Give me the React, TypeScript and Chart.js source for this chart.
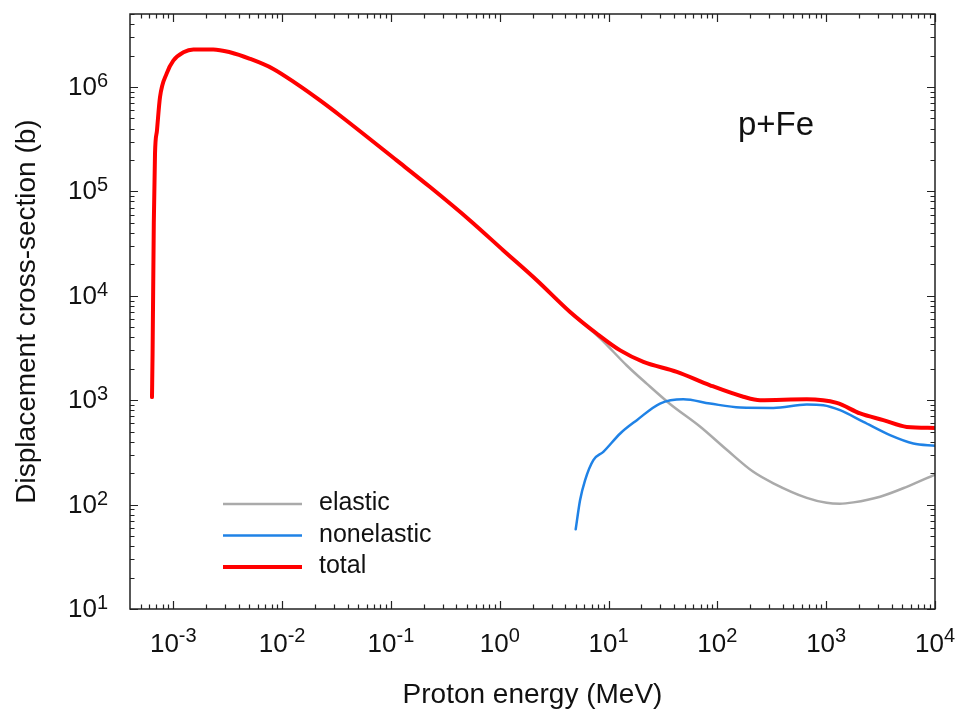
import React, { useEffect, useRef } from 'react';
import { Chart, registerables } from 'chart.js';

Chart.register(...registerables);

// ---- Data ----
const totalE = [6.37e-4, 6.45e-4, 6.62e-4, 6.79e-4, 7.08e-4, 7.55e-4, 8.7e-4, 1.0e-3, 1.24e-3, 1.53e-3, 2.33e-3, 3.32e-3, 5.07e-3, 8.3e-3, 1.36e-2, 2.23e-2, 3.4e-2, 0.113, 0.229, 0.533, 1.08, 2.19, 4.43, 7.78, 12.8, 20.9, 42.4, 85.7, 173, 247, 663, 1250, 2050, 3350, 5500, 10000];
const totalXS = [1.07e3, 2.8e3, 5.0e4, 2.3e5, 3.84e5, 8.0e5, 1.35e6, 1.79e6, 2.15e6, 2.29e6, 2.29e6, 2.15e6, 1.86e6, 1.49e6, 1.07e6, 7.43e5, 5.33e5, 1.98e5, 1.1e5, 5.27e4, 2.72e4, 1.41e4, 7.0e3, 4.35e3, 3.0e3, 2.33e3, 1.87e3, 1.39e3, 1.08e3, 1.0e3, 1.02e3, 942, 746, 644, 555, 543];

const elasticE = [1.08, 2.19, 4.43, 8.36, 14.7, 22.4, 36.7, 69.2, 122, 214, 327, 663, 1010, 1330, 1780, 3130, 5500, 10000];
const elasticXS = [2.72e4, 1.41e4, 7.0e3, 3.92e3, 2.15e3, 1.44e3, 920, 560, 335, 206, 160, 116, 104, 102, 105, 119, 148, 194];

const nonelasticE = [4.99, 5.47, 6.08, 7.25, 8.95, 12.8, 18.2, 29.7, 48.7, 85.7, 162, 327, 663, 942, 1340, 2200, 3860, 6320, 10000];
const nonelasticXS = [58, 110, 171, 267, 320, 480, 644, 929, 1020, 929, 851, 844, 910, 895, 802, 620, 463, 385, 366];

const seriesNames = ['elastic', 'nonelastic', 'total'];
const seriesColors = ['#aaaaaa', '#1f82e6', '#ff0000'];
const seriesWidths = [2.5, 2.5, 4];

const xTickExponents = [-3, -2, -1, 0, 1, 2, 3, 4];
const yTickExponents = [1, 2, 3, 4, 5, 6];
const xMin = 4e-4;
const xMax = 1e4;
const yMin = 10;
const yMax = 5e6;

const xTitle = 'Proton energy (MeV)';
const yTitle = 'Displacement cross-section (b)';
const annotationText = 'p+Fe';

const FONT = '"Liberation Sans", Arial, Helvetica, sans-serif';

function toPoints(xs: number[], ys: number[]) {
  return xs.map((x, i) => ({ x, y: ys[i] }));
}

const decorPlugin = {
  id: 'decor',
  afterDraw(chart: any) {
    const { ctx, chartArea: a, scales } = chart;
    const xs = scales.x;
    const ys = scales.y;
    ctx.save();

    // ticks (inward, all four sides)
    ctx.strokeStyle = '#222';
    ctx.lineWidth = 1.2;
    ctx.beginPath();
    for (let d = Math.floor(Math.log10(xMin)); d <= Math.ceil(Math.log10(xMax)); d++) {
      for (let m = 1; m <= 9; m++) {
        const v = m * Math.pow(10, d);
        if (v < xMin * 1.001 || v > xMax * 1.001) continue;
        const px = Math.round(xs.getPixelForValue(v)) + 0.5;
        const len = m === 1 ? 8 : 4.5;
        ctx.moveTo(px, a.bottom);
        ctx.lineTo(px, a.bottom - len);
        ctx.moveTo(px, a.top);
        ctx.lineTo(px, a.top + len);
      }
    }
    for (let d = Math.floor(Math.log10(yMin)); d <= Math.ceil(Math.log10(yMax)); d++) {
      for (let m = 1; m <= 9; m++) {
        const v = m * Math.pow(10, d);
        if (v < yMin * 0.999 || v > yMax * 1.001) continue;
        const py = Math.round(ys.getPixelForValue(v)) + 0.5;
        const len = m === 1 ? 8 : 4.5;
        ctx.moveTo(a.left, py);
        ctx.lineTo(a.left + len, py);
        ctx.moveTo(a.right, py);
        ctx.lineTo(a.right - len, py);
      }
    }
    ctx.stroke();

    // frame
    ctx.lineWidth = 1.5;
    ctx.strokeRect(a.left, a.top, a.right - a.left, a.bottom - a.top);

    // tick labels
    ctx.fillStyle = '#111';
    ctx.textBaseline = 'alphabetic';
    const baseFont = `26px ${FONT}`;
    const supFont = `20px ${FONT}`;
    ctx.textAlign = 'left';
    xTickExponents.forEach((e) => {
      const px = xs.getPixelForValue(Math.pow(10, e));
      const sup = String(e);
      ctx.font = baseFont;
      const w1 = ctx.measureText('10').width;
      ctx.font = supFont;
      const w2 = ctx.measureText(sup).width;
      const start = px - (w1 + w2) / 2;
      ctx.font = baseFont;
      ctx.fillText('10', start, a.bottom + 43);
      ctx.font = supFont;
      ctx.fillText(sup, start + w1, a.bottom + 33);
    });
    yTickExponents.forEach((e) => {
      const py = ys.getPixelForValue(Math.pow(10, e));
      const sup = String(e);
      ctx.font = supFont;
      const w2 = ctx.measureText(sup).width;
      ctx.font = baseFont;
      const w1 = ctx.measureText('10').width;
      const right = a.left - 22;
      ctx.fillText('10', right - w2 - w1, py + 8);
      ctx.font = supFont;
      ctx.fillText(sup, right - w2, py);
    });

    // axis titles
    ctx.font = `28px ${FONT}`;
    ctx.textAlign = 'center';
    ctx.fillText(xTitle, (a.left + a.right) / 2, a.bottom + 94);
    ctx.save();
    ctx.translate(35, (a.top + a.bottom) / 2);
    ctx.rotate(-Math.PI / 2);
    ctx.fillText(yTitle, 0, 0);
    ctx.restore();

    // annotation
    ctx.font = `33px ${FONT}`;
    ctx.fillText(annotationText, a.left + 646, a.top + 121);

    // legend
    ctx.textAlign = 'left';
    ctx.font = `25px ${FONT}`;
    const lx0 = a.left + 93;
    const lx1 = a.left + 172;
    const ly0 = a.bottom - 105;
    seriesNames.forEach((name, i) => {
      const y = ly0 + i * 31.5;
      ctx.strokeStyle = seriesColors[i];
      ctx.lineWidth = seriesWidths[i];
      ctx.beginPath();
      ctx.moveTo(lx0, y);
      ctx.lineTo(lx1, y);
      ctx.stroke();
      ctx.fillStyle = '#111';
      ctx.fillText(name, a.left + 189, y + 6);
    });

    ctx.restore();
  },
};

export default function App() {
  const canvasRef = useRef<HTMLCanvasElement | null>(null);

  useEffect(() => {
    if (!canvasRef.current) return;
    const datasets = [
      { label: seriesNames[0], data: toPoints(elasticE, elasticXS), order: 3 },
      { label: seriesNames[1], data: toPoints(nonelasticE, nonelasticXS), order: 2 },
      { label: seriesNames[2], data: toPoints(totalE, totalXS), order: 1 },
    ].map((d, i) => ({
      ...d,
      borderColor: seriesColors[i],
      backgroundColor: seriesColors[i],
      borderWidth: seriesWidths[i],
      pointRadius: 0,
      fill: false,
      cubicInterpolationMode: 'monotone' as const,
      borderCapStyle: 'round' as const,
      borderJoinStyle: 'round' as const,
    }));

    const chart = new Chart(canvasRef.current, {
      type: 'line',
      data: { datasets },
      options: {
        animation: false,
        responsive: false,
        layout: { padding: { left: 0, right: 25, top: 14, bottom: 0 } },
        plugins: { legend: { display: false }, tooltip: { enabled: false } },
        scales: {
          x: {
            type: 'logarithmic',
            min: xMin,
            max: xMax,
            grid: { display: false },
            border: { display: false },
            ticks: { display: false },
            afterFit: (s: any) => {
              s.height = 101;
            },
          },
          y: {
            type: 'logarithmic',
            min: yMin,
            max: yMax,
            grid: { display: false },
            border: { display: false },
            ticks: { display: false },
            afterFit: (s: any) => {
              s.width = 130;
            },
          },
        },
      },
      plugins: [decorPlugin],
    });
    return () => chart.destroy();
  }, []);

  return (
    <div style={{ position: 'fixed', left: 0, top: 0, width: 960, height: 710, background: '#fff' }}>
      <canvas ref={canvasRef} width={960} height={710} />
    </div>
  );
}
